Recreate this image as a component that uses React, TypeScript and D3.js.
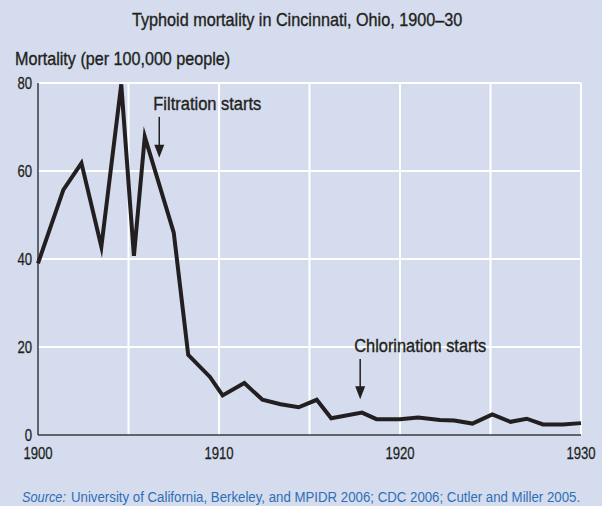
import React, { useEffect, useLayoutEffect, useRef, useState } from "react";
import * as d3 from "d3";

const years = [1900.0, 1901.4, 1902.4, 1903.5, 1904.6, 1905.3, 1905.9, 1907.5, 1908.3, 1909.5, 1910.2, 1911.4, 1912.4, 1913.4, 1914.4, 1915.4, 1916.2, 1917.9, 1918.7, 1920.0, 1921.0, 1922.2, 1923.0, 1924.0, 1925.1, 1926.1, 1927.0, 1927.9, 1929.0, 1930.0];
const mortality = [39.0, 55.7, 61.8, 42.8, 79.7, 40.7, 67.8, 46.0, 18.2, 13.2, 9.0, 11.8, 8.0, 7.0, 6.3, 8.0, 3.8, 5.1, 3.6, 3.6, 4.0, 3.4, 3.3, 2.6, 4.7, 3.0, 3.7, 2.4, 2.4, 2.7];
const yTicks = [0, 20, 40, 60, 80];
const xTickLabels = [1900, 1910, 1920, 1930];
const xGrid = [1905, 1910, 1915, 1920, 1925, 1930];
const annotationLabels = ["Filtration starts", "Chlorination starts"];
const annotationYears = [1906.7, 1917.8];
const annotationTipValues = [63, 8.1];
const annotationTopValues = [72.3, 17.3];

const title = "Typhoid mortality in Cincinnati, Ohio, 1900–30";
const yTitle = "Mortality (per 100,000 people)";
const sourceLabel = "Source:";
const sourceText = "University of California, Berkeley, and MPIDR 2006; CDC 2006; Cutler and Miller 2005.";

const FONT = "'Liberation Sans', Arial, Helvetica, sans-serif";
const BG = "#d4dcee";
const INK = "#231f20";
const BLUE = "#2f6fb5";
const SQ = 0.82;

function Narrow(props: { x: number; y: number; anchor?: string; size: number; children: React.ReactNode; dy?: string }) {
  const { x, y, anchor = "start", size, children, dy } = props;
  return (
    <g transform={`translate(${x},${y}) scale(${SQ},1)`}>
      <text x={0} y={0} dy={dy} textAnchor={anchor} fontSize={size} fill={INK} stroke={INK} strokeWidth={0.25}>{children}</text>
    </g>
  );
}

function Fitted(props: { x: number; y: number; width: number; size: number; fill: string; italic?: boolean; heavy?: boolean; children: string }) {
  const { x, y, width, size, fill, italic, heavy, children } = props;
  const ref = useRef<SVGTextElement>(null);
  const [sx, setSx] = useState(SQ);
  useLayoutEffect(() => {
    if (ref.current) {
      const w = ref.current.getComputedTextLength();
      if (w > 0) setSx(width / w);
    }
  }, [width, children]);
  return (
    <g transform={`translate(${x},${y}) scale(${sx},1)`}>
      <text ref={ref} x={0} y={0} fontSize={size} fill={fill} fontStyle={italic ? "italic" : "normal"}
        stroke={heavy ? fill : "none"} strokeWidth={heavy ? 0.35 : 0}>{children}</text>
    </g>
  );
}

export default function App() {
  useEffect(() => {
    document.body.style.margin = "0";
  }, []);
  const W = 602, H = 506;
  const x = d3.scaleLinear().domain([1900, 1930]).range([38, 581]);
  const y = d3.scaleLinear().domain([0, 80]).range([435, 83]);
  const pts = years.map((yr, i) => [yr, mortality[i]] as [number, number]);
  const line = d3.line<[number, number]>().x(d => x(d[0])).y(d => y(d[1]));
  const annoWidths = [108, 132];

  return (
    <svg width={W} height={H} style={{ position: "absolute", left: 0, top: 0, display: "block" }} fontFamily={FONT}>
      <rect x={0} y={0} width={W} height={H} fill={BG} />
      <Fitted x={132} y={26} width={330} size={18} fill={INK} heavy>{title}</Fitted>
      <Fitted x={15} y={65} width={215} size={18} fill={INK} heavy>{yTitle}</Fitted>
      {yTicks.filter(t => t > 0).map(t => (
        <line key={"gy" + t} x1={x(1900)} x2={x(1930)} y1={y(t)} y2={y(t)} stroke="#fff" strokeWidth={2} />
      ))}
      {xGrid.map(t => (
        <line key={"gx" + t} x1={x(t)} x2={x(t)} y1={y(0)} y2={y(80)} stroke="#fff" strokeWidth={2} />
      ))}
      <line x1={x(1900)} x2={x(1900)} y1={y(80)} y2={y(0)} stroke="#3a3a40" strokeWidth={1.5} />
      <line x1={x(1900)} x2={x(1930)} y1={y(0)} y2={y(0)} stroke="#3a3a40" strokeWidth={1.5} />
      {yTicks.map(t => (
        <Narrow key={"ty" + t} x={32} y={y(t)} dy="0.36em" anchor="end" size={16}>{t}</Narrow>
      ))}
      {xTickLabels.map(t => (
        <Narrow key={"tx" + t} x={x(t)} y={459} anchor="middle" size={16}>{t}</Narrow>
      ))}
      <path d={line(pts) || ""} fill="none" stroke={INK} strokeWidth={4} strokeLinejoin="miter" strokeMiterlimit={10} />
      {annotationLabels.map((lab, i) => {
        const ax = x(annotationYears[i]);
        const tip = y(annotationTipValues[i]);
        const top = y(annotationTopValues[i]);
        return (
          <g key={lab}>
            <Fitted x={ax - 6} y={top - 7} width={annoWidths[i]} size={18} fill={INK} heavy>{lab}</Fitted>
            <line x1={ax} x2={ax} y1={top} y2={tip - 8} stroke={INK} strokeWidth={1.5} />
            <path d={`M${ax - 5},${tip - 13} L${ax + 5},${tip - 13} L${ax},${tip} Z`} fill={INK} />
          </g>
        );
      })}
      <Fitted x={22} y={502} width={44} size={15.5} fill={BLUE} italic>{sourceLabel}</Fitted>
      <Fitted x={71} y={502} width={509} size={15.5} fill={BLUE}>{sourceText}</Fitted>
    </svg>
  );
}
